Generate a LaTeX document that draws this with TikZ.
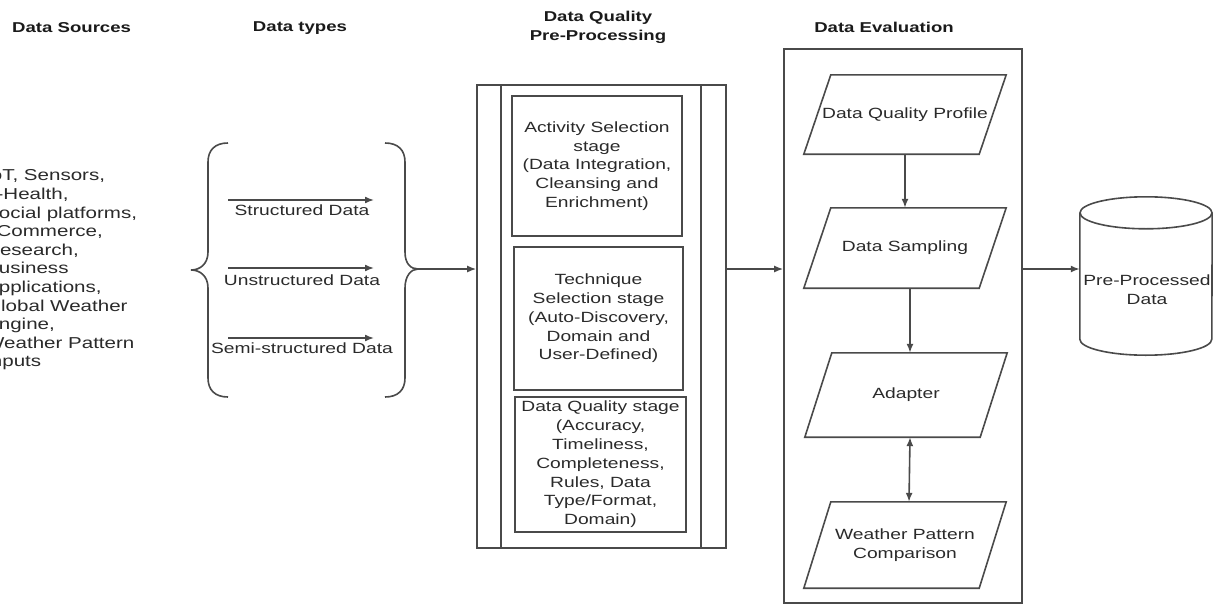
\documentclass[tikz,border=0pt]{standalone}
\usepackage{fontspec}
\setmainfont{Liberation Sans}[FakeStretch=1.3]
\usetikzlibrary{arrows.meta,calc}
\definecolor{txt}{HTML}{2A2A2A}
\definecolor{ttl}{HTML}{1A1A1A}
\definecolor{ln}{HTML}{4A4A4A}
\begin{document}
\begin{tikzpicture}[x=1pt,y=-1pt,
  every node/.style={text=txt, font=\fontsize{14.8}{18.8}\selectfont},
  title/.style={font=\fontsize{14.3}{19}\selectfont\bfseries, text=ttl, align=center, inner sep=0pt},
  stagebox/.style={draw=ln, line width=1.6pt, align=center, inner sep=0pt},
  framebox/.style={draw=ln, line width=1.6pt, inner sep=0pt},
  para/.style={align=center, inner sep=0pt},
  ln/.style={draw=ln, line width=1.6pt},
  arr/.style={ln, -{Latex[length=9pt,width=7pt]}},
  dblarr/.style={ln, {Latex[length=9pt,width=7pt]}-{Latex[length=9pt,width=7pt]}}]
\useasboundingbox (0,0) rectangle (1213,605);
\clip (0,0) rectangle (1213,605);

% column headings
\node[title, anchor=west] (tsrc) at (12,28) {Data Sources};
\node[title] (ttyp) at (300,28) {Data types};
\node[title] (tdq) at (598,27) {Data Quality\\Pre-Processing};
\node[title] (tev) at (884,27) {Data Evaluation};

% data sources list, running off the left edge
\node[anchor=west, align=left, inner sep=0pt, font=\fontsize{15.8}{18.6}\selectfont] (src) at (-15,270)
  {IoT, Sensors,\\e-Health,\\Social platforms,\\eCommerce,\\Research,\\Business\\Applications,\\Global Weather\\Engine,\\Weather Pattern\\Inputs};

% braces around the data types
\draw[ln] (228,143) .. controls (215,143) and (208,150) .. (208,162) -- (208,252)
  .. controls (208,264) and (200,270) .. (191,270)
  .. controls (200,270) and (208,276) .. (208,288) -- (208,378)
  .. controls (208,390) and (215,397) .. (228,397);
\draw[ln] (385,143) .. controls (398,143) and (405,150) .. (405,162) -- (405,252)
  .. controls (405,264) and (411,269) .. (418,269)
  .. controls (411,269) and (405,276) .. (405,288) -- (405,378)
  .. controls (405,390) and (398,397) .. (385,397);
\coordinate (rbt) at (418,269);

% data types
\coordinate (a1s) at (228,200); \coordinate (a1e) at (374,200);
\coordinate (a2s) at (228,268); \coordinate (a2e) at (374,268);
\coordinate (a3s) at (228,338); \coordinate (a3e) at (374,338);
\draw[arr] (a1s) -- (a1e);
\draw[arr] (a2s) -- (a2e);
\draw[arr] (a3s) -- (a3e);
\node (l1) at (302,210) {Structured Data};
\node (l2) at (302,280) {Unstructured Data};
\node (l3) at (302,348) {Semi-structured Data};

% pre-processing block
\node[framebox, minimum width=249, minimum height=463] (pp) at (601.5,316.5) {};
\draw[ln] ([xshift=25pt]pp.north west) -- ([xshift=25pt]pp.south west);
\draw[ln] ([xshift=-26pt]pp.north east) -- ([xshift=-26pt]pp.south east);
\node[stagebox, minimum width=170, minimum height=140] (act) at (597,166)
  {Activity Selection\\stage\\(Data Integration,\\Cleansing and\\Enrichment)};
\node[stagebox, minimum width=169, minimum height=143] (tech) at (598.5,318.5)
  {Technique\\Selection stage\\(Auto-Discovery,\\Domain and\\User-Defined)};
\node[stagebox, minimum width=171, minimum height=135] (dqs) at (600.5,464.5)
  {Data Quality stage\\(Accuracy,\\Timeliness,\\Completeness,\\Rules, Data\\Type/Format,\\Domain)};

% evaluation block
\node[framebox, minimum width=238, minimum height=554] (ev) at (903,326) {};
\node[para, minimum width=175, minimum height=79] (dqp) at (905,114.5) {Data Quality Profile};
\node[para, minimum width=175, minimum height=80] (ds) at (905,248) {Data Sampling};
\node[para, minimum width=175, minimum height=84] (ad) at (906,395) {Adapter};
\node[para, minimum width=175, minimum height=86] (wp) at (905,545) {Weather Pattern\\Comparison};
\foreach \n in {dqp,ds,ad,wp}
  \draw[ln] ([xshift=-13.5pt]\n.south west) -- ([xshift=-13.5pt]\n.south east)
    -- ([xshift=13.5pt]\n.north east) -- ([xshift=13.5pt]\n.north west) -- cycle;
\draw[arr] (dqp.south) -- (ds.north);
\draw[arr] ([xshift=5pt]ds.south) -- ([xshift=4pt]ad.north);
\draw[dblarr] ([xshift=4pt]ad.south) -- ([xshift=4pt]wp.north);

% output store
\node[inner sep=0pt, minimum width=132, minimum height=158] (db) at (1146,276) {};
\draw[ln] ([yshift=-16pt]db.north west) -- ([yshift=16pt]db.south west)
  arc[start angle=180, end angle=360, x radius=66pt, y radius=16pt]
  -- ([yshift=-16pt]db.north east);
\draw[ln] ([yshift=-16pt]db.north) ellipse [x radius=66pt, y radius=16pt];
\node[align=center, inner sep=0pt] (dbt) at (1147,290) {Pre-Processed\\Data};

% main flow
\coordinate (row) at (750,269);
\draw[arr] (rbt) -- (pp.west |- rbt);
\draw[arr] (pp.east |- row) -- (ev.west |- row);
\draw[arr] (ev.east |- row) -- (db.west |- row);
\end{tikzpicture}
\end{document}
